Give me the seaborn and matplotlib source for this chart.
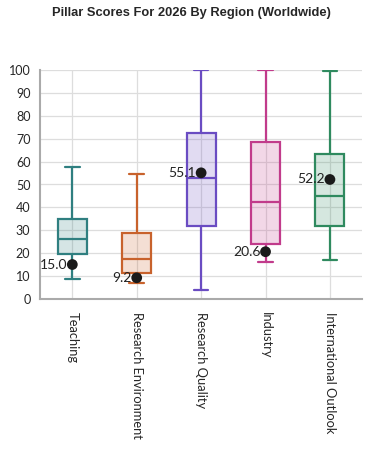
import matplotlib
matplotlib.use('Agg')
import matplotlib.pyplot as plt
import pandas as pd
import seaborn as sns

pillars = ["Teaching", "Research Environment", "Research Quality", "Industry", "International Outlook"]
# five-number summary per pillar: min, q1, median, q3, max
lows = [8.5, 7.0, 4.0, 16.0, 17.0]
q1s = [19.5, 11.5, 32.0, 24.0, 32.0]
medians = [26.0, 17.5, 53.0, 42.5, 45.0]
q3s = [35.0, 29.0, 72.5, 68.5, 63.5]
highs = [57.5, 54.5, 100.0, 100.0, 99.5]
region_scores = [15.0, 9.2, 55.1, 20.6, 52.2]
colors = ["#2f7f80", "#c8622c", "#6a4cc2", "#c13b8b", "#2f8a5f"]

rows = []
for i, p in enumerate(pillars):
    for v in [lows[i], q1s[i], medians[i], q3s[i], highs[i]]:
        rows.append({"pillar": p, "score": v})
df = pd.DataFrame(rows)
pts = pd.DataFrame({"pillar": pillars, "score": region_scores})

sns.set_style("whitegrid")
plt.rcParams['font.family'] = ['Lato', 'DejaVu Sans']

fig = plt.figure(figsize=(3.82, 4.5), dpi=100)
ax = fig.add_axes([0.105, 0.336, 0.843, 0.508])

sns.boxplot(data=df, x="pillar", y="score", hue="pillar", palette=colors,
            whis=(0, 100), width=0.45, linewidth=1.6, legend=False, ax=ax)

# colour edges and lighten fills
for i, patch in enumerate(ax.patches):
    c = colors[i]
    patch.set_facecolor(matplotlib.colors.to_rgba(c, 0.2))
    patch.set_edgecolor(c)
for i, p in enumerate(pillars):
    for line in ax.lines[i * 6:(i + 1) * 6]:
        line.set_color(colors[i])

sns.scatterplot(data=pts, x="pillar", y="score", color="#1a1a1a", s=60,
                zorder=5, edgecolor="none", ax=ax)
for i, v in enumerate(region_scores):
    ax.text(i - 0.08, v, f"{v:.1f}", ha="right", va="center", fontsize=10, color="#222222")

ax.set_ylim(0, 100)
ax.set_xlim(-0.5, 4.5)
ax.set_yticks(range(0, 101, 10))
ax.set_xlabel("")
ax.set_ylabel("")
ax.tick_params(axis="x", labelrotation=270, labelsize=9.3, pad=6)
ax.tick_params(axis="y", labelsize=9)
for lab in ax.get_xticklabels():
    lab.set_va("top")
ax.grid(True, color="#dddddd", linewidth=0.9)
for s in ["top", "right"]:
    ax.spines[s].set_visible(False)
for s in ["left", "bottom"]:
    ax.spines[s].set_color("#aaaaaa")
    ax.spines[s].set_linewidth(1.5)

fig.suptitle("Pillar Scores For 2026 By Region (Worldwide)", y=0.985,
             fontsize=9.3, fontweight="bold", family="Liberation Sans")
fig.savefig("out.png", dpi=100)
